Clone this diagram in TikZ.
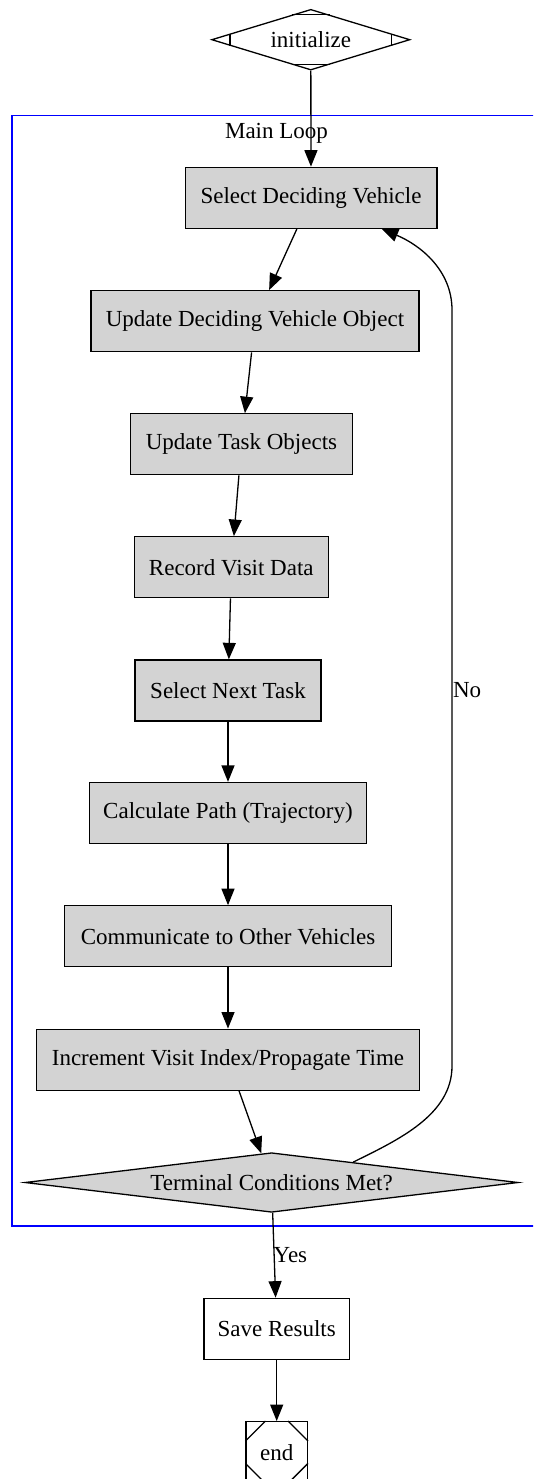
\documentclass[tikz,border=0pt]{standalone}
\usepackage{fontspec}
\setmainfont{Liberation Serif}
\usetikzlibrary{arrows.meta,shapes.geometric,calc}
\definecolor{boxgray}{HTML}{D3D3D3}
\begin{document}
\begin{tikzpicture}[x=1pt,y=-1pt,
  every node/.style={font=\fontsize{23}{27}\selectfont, inner sep=0pt},
  stepbox/.style={draw=black, line width=1.3pt, fill=boxgray, rectangle, minimum height=61pt},
  plainbox/.style={draw=black, line width=1.3pt, fill=white, rectangle, minimum height=61pt},
  decision/.style={draw=black, line width=1.3pt, diamond, shape aspect=8},
  flow/.style={draw=black, line width=1.3pt, -{Triangle[length=16.5pt,width=13pt]}},
  cluster/.style={draw=blue, line width=1.3pt}
]
\clip (0,0) rectangle (533,1479);
\useasboundingbox (0,0) rectangle (533,1479);

% main loop cluster frame and its title
\draw[cluster] (12,115.5) rectangle (541,1226);
\node (looptitle) at (276.5,133) {Main Loop};

% start marker (Mdiamond)
\node[decision, fill=white, minimum width=198.3pt, minimum height=60.7pt, shape aspect=3.3] (init) at (310.8,39.7) {initialize};
\draw[line width=1.3pt] ($(init.north)!0.19!(init.west)$) -- ($(init.north)!0.19!(init.east)$);
\draw[line width=1.3pt] ($(init.south)!0.19!(init.west)$) -- ($(init.south)!0.19!(init.east)$);
\draw[line width=1.3pt] ($(init.west)!0.19!(init.north)$) -- ($(init.west)!0.19!(init.south)$);
\draw[line width=1.3pt] ($(init.east)!0.19!(init.north)$) -- ($(init.east)!0.19!(init.south)$);

% loop steps
\node[stepbox, minimum width=251.7pt] (select) at (311,197.8) {Select Deciding Vehicle};
\node[stepbox, minimum width=328pt]   (udvo)   at (255,321.2) {Update Deciding Vehicle Object};
\node[stepbox, minimum width=221.6pt] (uto)    at (241.5,444.3) {Update Task Objects};
\node[stepbox, minimum width=194pt]   (rvd)    at (231.3,567.2) {Record Visit Data};
\node[stepbox, minimum width=186pt]   (snt)    at (228,690.5) {Select Next Task};
\node[stepbox, minimum width=277.4pt] (calc)   at (228,813) {Calculate Path (Trajectory)};
\node[stepbox, minimum width=327.4pt] (comm)   at (228,936.3) {Communicate to Other Vehicles};
\node[stepbox, minimum width=382.6pt] (inc)    at (228,1059.7) {Increment Visit Index/Propagate Time};
\node[decision, fill=boxgray, minimum width=493.3pt, minimum height=59.6pt] (term) at (271.6,1182.5) {Terminal Conditions Met?};

% after the loop
\node[plainbox, minimum width=145.3pt] (save) at (276.7,1328.8) {Save Results};
\node[draw=black, line width=1.3pt, fill=white, rectangle, minimum width=61.3pt, minimum height=61pt] (end) at (276.7,1452.2) {end};
\draw[line width=1.3pt] ($(end.north west)+(0,20)$) -- ($(end.north west)+(20,0)$);
\draw[line width=1.3pt] ($(end.north east)+(-20,0)$) -- ($(end.north east)+(0,20)$);
\draw[line width=1.3pt] ($(end.south west)+(0,-20)$) -- ($(end.south west)+(20,0)$);
\draw[line width=1.3pt] ($(end.south east)+(-20,0)$) -- ($(end.south east)+(0,-20)$);

% connectors
\draw[flow] (init) -- (select);
\draw[flow] (select) -- (udvo);
\draw[flow] (udvo) -- (uto);
\draw[flow] (uto) -- (rvd);
\draw[flow] (rvd) -- (snt);
\draw[flow] (snt) -- (calc);
\draw[flow] (calc) -- (comm);
\draw[flow] (comm) -- (inc);
\draw[flow] (inc) -- (term);
\draw[flow] (term) -- (save);
\draw[flow] (save) -- (end);

% loop back edge
\coordinate (backlow) at (452,1066);
\coordinate (backhigh) at (452,310);
\draw[flow] ($(term.north)!0.33!(term.east)$) .. controls (398,1140) and (452,1115) .. (backlow)
  -- (backhigh) .. controls (452,270) and (420,245) .. ([xshift=70.7pt]select.south);

% edge labels
\node[anchor=west] (nolabel) at (452.8,690) {No};
\node[anchor=west] (yeslabel) at (273.5,1255) {Yes};
\end{tikzpicture}
\end{document}
